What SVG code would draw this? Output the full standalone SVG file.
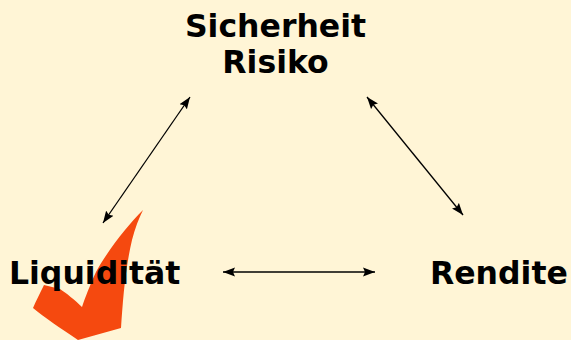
<svg xmlns="http://www.w3.org/2000/svg" width="571" height="340" viewBox="0 0 571 340">
<style>
.lbl{font-family:"DejaVu Sans",Verdana,sans-serif;font-weight:bold;font-size:31.5px;fill:#000}
.con{stroke:#000;stroke-width:1.3;fill:none;marker-start:url(#ah);marker-end:url(#ah)}
</style>
<defs>
<marker id="ah" viewBox="0 0 12 10" refX="12" refY="5" markerWidth="12" markerHeight="10" markerUnits="userSpaceOnUse" orient="auto-start-reverse">
<path d="M0,0.5 L12,5 L0,9.5 L2,5 Z" fill="#000"/>
</marker>
</defs>
<rect width="571" height="340" fill="#FFF5D6"/>
<path id="check" d="M143,210 C128,225 108,250 96,272 C90,285 85,298 82,307 C75,300 66,293 60,289 L44,285 C40,293 36,301 33,308 C45,318 60,328 78,340 L121,328 C123,300 125,270 132,240 C135,228 139,218 143,210 Z" fill="#F5490F"/>
<g id="connectors">
<line class="con" x1="190" y1="97" x2="103" y2="223"/>
<line class="con" x1="367" y1="97" x2="463" y2="215"/>
<line class="con" x1="223" y1="272" x2="375" y2="272"/>
</g>
<g id="sicherheit"><text class="lbl" x="275.5" y="37" text-anchor="middle">Sicherheit</text><text class="lbl" x="275.5" y="73" text-anchor="middle">Risiko</text></g>
<g id="liquiditaet"><text class="lbl" x="9" y="284">Liquidität</text></g>
<g id="rendite"><text class="lbl" x="430" y="284">Rendite</text></g>
</svg>
